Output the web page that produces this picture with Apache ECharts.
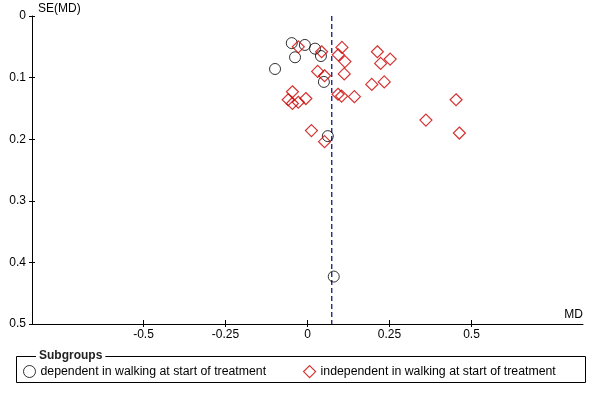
<!DOCTYPE html>
<html>
<head>
<meta charset="utf-8">
<script src="https://cdn.jsdelivr.net/npm/echarts@6/dist/echarts.min.js"></script>
<style>
html,body{margin:0;padding:0;background:#fff;}
#chart{width:600px;height:400px;}
</style>
</head>
<body>
<div id="chart"></div>
<script>
// ---- Data ----
const seriesNames = ['dependent in walking at start of treatment', 'independent in walking at start of treatment'];
const depMD = [-0.048, -0.008, 0.023, 0.041, -0.038, -0.099, 0.050, 0.062, 0.080];
const depSE = [0.044, 0.047, 0.053, 0.065, 0.067, 0.086, 0.107, 0.195, 0.423];
const indMD = [-0.028, 0.043, 0.105, 0.094, 0.114, 0.112, 0.213, 0.223, 0.252, 0.031, 0.052, 0.196, 0.234,
               -0.046, -0.059, -0.046, -0.028, -0.005, 0.093, 0.104, 0.143, 0.453, 0.361, 0.463, 0.012, 0.052];
const indSE = [0.050, 0.058, 0.051, 0.063, 0.074, 0.094, 0.058, 0.077, 0.070, 0.090, 0.097, 0.111, 0.107,
               0.123, 0.136, 0.142, 0.140, 0.134, 0.127, 0.130, 0.131, 0.136, 0.169, 0.190, 0.186, 0.204];
const pooledMD = 0.074;
const xTickValues = [-0.5, -0.25, 0, 0.25, 0.5];
const xRange = [-0.84, 0.84];
const yRange = [0, 0.5];
const yInterval = 0.1;

const FONT = '"Liberation Sans", Arial, sans-serif';
const zip = (a, b) => a.map((v, i) => [v, b[i]]);

const chart = echarts.init(document.getElementById('chart'), null, {renderer: 'canvas'});

const xBase = {
  type: 'value', min: xRange[0], max: xRange[1], position: 'bottom',
  splitLine: {show: false}
};
const yBase = {
  type: 'value', min: yRange[0], max: yRange[1], interval: yInterval, inverse: true, position: 'left',
  splitLine: {show: false}
};

chart.setOption({
  animation: false,
  backgroundColor: '#fff',
  grid: {left: 32, top: 16, width: 551, height: 308, containLabel: false},
  xAxis: [
    Object.assign({}, xBase, {
      axisLine: {show: true, onZero: false, lineStyle: {color: '#000', width: 1}},
      axisTick: {show: true, inside: false, length: 3, customValues: xTickValues, lineStyle: {color: '#000'}},
      axisLabel: {show: true, customValues: xTickValues, margin: 5, color: '#000', fontSize: 12, fontFamily: FONT}
    }),
    Object.assign({}, xBase, {
      axisLine: {show: false, onZero: false},
      axisTick: {show: true, inside: true, length: 4, customValues: xTickValues, lineStyle: {color: '#000'}},
      axisLabel: {show: false}
    })
  ],
  yAxis: [
    Object.assign({}, yBase, {
      axisLine: {show: true, onZero: false, lineStyle: {color: '#000', width: 1}},
      axisTick: {show: true, inside: false, length: 3, lineStyle: {color: '#000'}},
      axisLabel: {show: true, margin: 6, color: '#000', fontSize: 12, fontFamily: FONT}
    }),
    Object.assign({}, yBase, {
      axisLine: {show: false, onZero: false},
      axisTick: {show: true, inside: true, length: 3, lineStyle: {color: '#000'}},
      axisLabel: {show: false}
    })
  ],
  legend: [
    {
      left: 18, top: 360, itemWidth: 12, itemHeight: 12, selectedMode: false,
      textStyle: {color: '#000', fontSize: 12.3, fontFamily: FONT},
      data: [{name: seriesNames[0], icon: 'circle',
              itemStyle: {color: 'transparent', borderColor: '#000', borderWidth: 1}}]
    },
    {
      left: 298, top: 360, itemWidth: 12, itemHeight: 12, selectedMode: false,
      textStyle: {color: '#000', fontSize: 12.3, fontFamily: FONT},
      data: [{name: seriesNames[1], icon: 'diamond',
              itemStyle: {color: 'transparent', borderColor: '#cc0000', borderWidth: 1.2}}]
    }
  ],
  graphic: [
    {type: 'rect', shape: {x: 16.5, y: 356.5, width: 569, height: 26},
     style: {fill: 'none', stroke: '#000', lineWidth: 1}, silent: true, z: 1},
    {type: 'text', x: 36, y: 356, silent: true, z: 2,
     style: {text: 'Subgroups', fill: '#222', font: 'bold 12px ' + FONT, verticalAlign: 'middle',
             backgroundColor: '#fff', padding: [0, 3]}},
    {type: 'text', x: 38, y: 9, silent: true,
     style: {text: 'SE(MD)', fill: '#000', font: '12px ' + FONT, verticalAlign: 'middle'}},
    {type: 'text', x: 583, y: 315, silent: true,
     style: {text: 'MD', fill: '#000', font: '12px ' + FONT, verticalAlign: 'middle', align: 'right'}}
  ],
  series: [
    {
      type: 'line', silent: true, symbol: 'none', z: 1,
      data: [[pooledMD, yRange[0]], [pooledMD, yRange[1]]],
      lineStyle: {color: '#000080', width: 1.2, type: [5, 3]}
    },
    {
      name: seriesNames[0], type: 'scatter', symbol: 'circle', symbolSize: 11, z: 3,
      itemStyle: {color: 'transparent', borderColor: '#000', borderWidth: 1},
      data: zip(depMD, depSE)
    },
    {
      name: seriesNames[1], type: 'scatter', symbol: 'diamond', symbolSize: 12, z: 3,
      itemStyle: {color: 'transparent', borderColor: '#cc0000', borderWidth: 1.2},
      data: zip(indMD, indSE)
    }
  ]
});
</script>
</body>
</html>
